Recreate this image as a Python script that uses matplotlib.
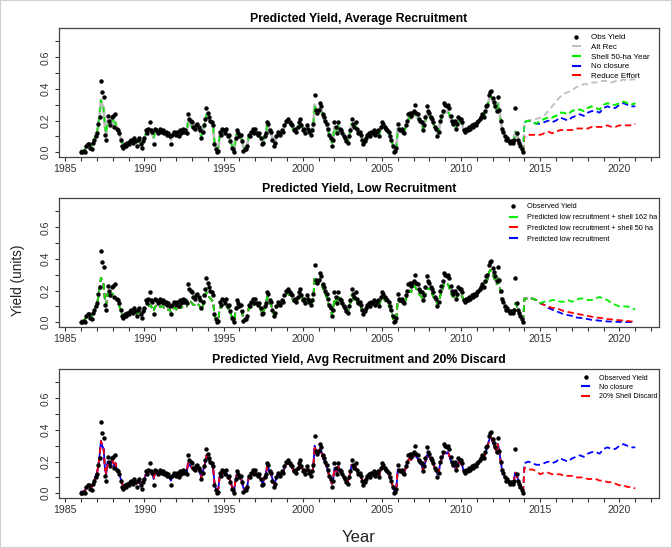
import numpy as np
import matplotlib.pyplot as plt
from matplotlib.lines import Line2D
from matplotlib.patches import Rectangle

plt.rcParams['font.family'] = ['Liberation Sans', 'DejaVu Sans']

# observed yield, monthly from Jan 1986 to Dec 2013
obs_yield = [
    0.00, 0.00, 0.01, 0.00, 0.04, 0.05, 0.05, 0.03, 0.02, 0.06, 0.08, 0.10,  # 1986
    0.12, 0.18, 0.22, 0.45, 0.38, 0.35, 0.11, 0.08, 0.23, 0.20, 0.17, 0.22,  # 1987
    0.23, 0.16, 0.24, 0.15, 0.14, 0.12, 0.08, 0.04, 0.03, 0.05, 0.04, 0.06,  # 1988
    0.05, 0.07, 0.08, 0.06, 0.09, 0.07, 0.04, 0.08, 0.09, 0.05, 0.03, 0.07,  # 1989
    0.09, 0.14, 0.12, 0.15, 0.19, 0.14, 0.13, 0.05, 0.15, 0.14, 0.12, 0.13,  # 1990
    0.15, 0.13, 0.14, 0.12, 0.13, 0.11, 0.12, 0.10, 0.05, 0.11, 0.13, 0.12,  # 1991
    0.11, 0.13, 0.10, 0.14, 0.12, 0.15, 0.13, 0.14, 0.12, 0.24, 0.21, 0.20,  # 1992
    0.19, 0.16, 0.15, 0.17, 0.18, 0.16, 0.14, 0.09, 0.13, 0.17, 0.21, 0.28,  # 1993
    0.25, 0.22, 0.20, 0.19, 0.17, 0.05, 0.02, 0.00, 0.01, 0.13, 0.11, 0.15,  # 1994
    0.14, 0.12, 0.15, 0.10, 0.11, 0.07, 0.03, 0.02, 0.00, 0.09, 0.14, 0.12,  # 1995
    0.10, 0.11, 0.07, 0.01, 0.02, 0.02, 0.04, 0.11, 0.10, 0.13, 0.15, 0.12,  # 1996
    0.15, 0.12, 0.11, 0.12, 0.09, 0.05, 0.06, 0.10, 0.12, 0.19, 0.18, 0.14,  # 1997
    0.13, 0.08, 0.04, 0.06, 0.10, 0.13, 0.12, 0.11, 0.14, 0.13, 0.17, 0.20,  # 1998
    0.20, 0.21, 0.19, 0.18, 0.17, 0.14, 0.15, 0.13, 0.16, 0.19, 0.21, 0.17,  # 1999
    0.14, 0.15, 0.12, 0.17, 0.15, 0.13, 0.11, 0.14, 0.18, 0.36, 0.27, 0.25,  # 2000
    0.27, 0.31, 0.29, 0.24, 0.22, 0.20, 0.18, 0.15, 0.11, 0.09, 0.04, 0.08,  # 2001
    0.19, 0.16, 0.12, 0.19, 0.15, 0.14, 0.12, 0.10, 0.09, 0.07, 0.06, 0.10,  # 2002
    0.14, 0.21, 0.18, 0.16, 0.19, 0.15, 0.12, 0.13, 0.11, 0.08, 0.05, 0.07,  # 2003
    0.09, 0.11, 0.12, 0.10, 0.13, 0.12, 0.14, 0.11, 0.13, 0.14, 0.10, 0.16,  # 2004
    0.19, 0.18, 0.16, 0.15, 0.14, 0.13, 0.10, 0.08, 0.04, 0.00, 0.01, 0.03,  # 2005
    0.18, 0.15, 0.14, 0.15, 0.13, 0.12, 0.17, 0.20, 0.24, 0.25, 0.23, 0.25,  # 2006
    0.26, 0.30, 0.25, 0.24, 0.21, 0.20, 0.19, 0.14, 0.17, 0.22, 0.29, 0.26,  # 2007
    0.25, 0.22, 0.21, 0.19, 0.16, 0.15, 0.10, 0.13, 0.20, 0.23, 0.26, 0.31,  # 2008
    0.30, 0.29, 0.30, 0.28, 0.23, 0.20, 0.18, 0.20, 0.15, 0.18, 0.22, 0.21,  # 2009
    0.21, 0.19, 0.14, 0.13, 0.15, 0.14, 0.16, 0.15, 0.17, 0.16, 0.18, 0.17,  # 2010
    0.19, 0.20, 0.21, 0.22, 0.24, 0.22, 0.26, 0.29, 0.30, 0.36, 0.38, 0.39,  # 2011
    0.34, 0.32, 0.29, 0.26, 0.35, 0.27, 0.20, 0.15, 0.13, 0.10, 0.08, 0.09,  # 2012
    0.07, 0.06, 0.07, 0.06, 0.08, 0.28, 0.12, 0.08, 0.06, 0.04, 0.02, 0.00,  # 2013
]

# fitted yield, average recruitment (monthly, same months)
fit_avg = [
    0.01, 0.01, 0.01, 0.02, 0.03, 0.05, 0.05, 0.04, 0.04, 0.06, 0.08, 0.11,
    0.13, 0.17, 0.24, 0.33, 0.30, 0.28, 0.16, 0.12, 0.20, 0.19, 0.17, 0.20,
    0.21, 0.17, 0.19, 0.15, 0.14, 0.12, 0.09, 0.06, 0.05, 0.05, 0.05, 0.06,
    0.06, 0.07, 0.07, 0.07, 0.08, 0.07, 0.06, 0.07, 0.08, 0.06, 0.06, 0.08,
    0.09, 0.12, 0.12, 0.13, 0.15, 0.13, 0.12, 0.09, 0.13, 0.13, 0.12, 0.12,
    0.13, 0.13, 0.13, 0.12, 0.12, 0.11, 0.11, 0.10, 0.08, 0.10, 0.12, 0.12,
    0.11, 0.12, 0.11, 0.13, 0.12, 0.14, 0.13, 0.13, 0.13, 0.19, 0.18, 0.17,
    0.16, 0.15, 0.14, 0.16, 0.16, 0.15, 0.13, 0.10, 0.13, 0.16, 0.19, 0.24,
    0.22, 0.21, 0.19, 0.18, 0.16, 0.07, 0.03, 0.02, 0.03, 0.11, 0.11, 0.13,
    0.13, 0.12, 0.13, 0.11, 0.10, 0.08, 0.05, 0.03, 0.02, 0.08, 0.12, 0.11,
    0.10, 0.10, 0.07, 0.03, 0.03, 0.03, 0.05, 0.10, 0.10, 0.12, 0.13, 0.12,
    0.13, 0.12, 0.11, 0.11, 0.09, 0.07, 0.07, 0.10, 0.12, 0.17, 0.16, 0.13,
    0.12, 0.09, 0.06, 0.07, 0.10, 0.12, 0.12, 0.11, 0.13, 0.13, 0.16, 0.18,
    0.19, 0.19, 0.18, 0.17, 0.16, 0.14, 0.14, 0.13, 0.15, 0.17, 0.19, 0.17,
    0.15, 0.14, 0.13, 0.15, 0.15, 0.13, 0.12, 0.13, 0.17, 0.30, 0.26, 0.24,
    0.26, 0.28, 0.27, 0.23, 0.21, 0.19, 0.17, 0.14, 0.11, 0.09, 0.06, 0.09,
    0.16, 0.15, 0.12, 0.17, 0.14, 0.13, 0.12, 0.10, 0.09, 0.08, 0.07, 0.10,
    0.13, 0.18, 0.17, 0.15, 0.17, 0.14, 0.12, 0.12, 0.11, 0.08, 0.06, 0.08,
    0.09, 0.10, 0.11, 0.10, 0.12, 0.12, 0.13, 0.11, 0.12, 0.13, 0.11, 0.15,
    0.17, 0.17, 0.15, 0.14, 0.13, 0.12, 0.10, 0.08, 0.05, 0.02, 0.02, 0.04,
    0.15, 0.14, 0.14, 0.14, 0.13, 0.13, 0.16, 0.19, 0.21, 0.22, 0.21, 0.23,
    0.23, 0.25, 0.23, 0.22, 0.20, 0.19, 0.18, 0.15, 0.17, 0.20, 0.24, 0.23,
    0.23, 0.21, 0.20, 0.18, 0.16, 0.15, 0.12, 0.13, 0.18, 0.21, 0.23, 0.26,
    0.26, 0.25, 0.26, 0.24, 0.21, 0.19, 0.17, 0.18, 0.15, 0.17, 0.20, 0.19,
    0.19, 0.17, 0.14, 0.13, 0.14, 0.14, 0.15, 0.15, 0.16, 0.16, 0.17, 0.17,
    0.18, 0.19, 0.20, 0.21, 0.22, 0.22, 0.24, 0.27, 0.29, 0.33, 0.35, 0.35,
    0.32, 0.30, 0.28, 0.26, 0.31, 0.26, 0.20, 0.15, 0.13, 0.10, 0.09, 0.09,
    0.08, 0.07, 0.07, 0.07, 0.08, 0.13, 0.12, 0.09, 0.07, 0.05, 0.03, 0.01,
]

# fitted yield, low recruitment (monthly)
fit_low = [
    0.01, 0.01, 0.01, 0.02, 0.03, 0.04, 0.05, 0.04, 0.04, 0.05, 0.07, 0.10,
    0.12, 0.16, 0.22, 0.28, 0.26, 0.24, 0.14, 0.11, 0.18, 0.17, 0.15, 0.18,
    0.18, 0.15, 0.16, 0.13, 0.12, 0.10, 0.08, 0.05, 0.04, 0.04, 0.04, 0.05,
    0.05, 0.06, 0.06, 0.06, 0.07, 0.06, 0.05, 0.06, 0.07, 0.05, 0.05, 0.06,
    0.07, 0.09, 0.09, 0.10, 0.11, 0.10, 0.09, 0.07, 0.10, 0.10, 0.09, 0.09,
    0.10, 0.10, 0.10, 0.09, 0.09, 0.08, 0.08, 0.08, 0.06, 0.08, 0.09, 0.09,
    0.08, 0.09, 0.08, 0.10, 0.09, 0.10, 0.10, 0.10, 0.10, 0.14, 0.13, 0.13,
    0.12, 0.11, 0.11, 0.12, 0.12, 0.11, 0.10, 0.08, 0.10, 0.12, 0.15, 0.19,
    0.17, 0.16, 0.15, 0.14, 0.13, 0.05, 0.02, 0.01, 0.02, 0.09, 0.09, 0.11,
    0.11, 0.10, 0.11, 0.09, 0.08, 0.06, 0.04, 0.02, 0.01, 0.07, 0.10, 0.09,
    0.09, 0.09, 0.06, 0.02, 0.02, 0.02, 0.04, 0.09, 0.09, 0.11, 0.12, 0.11,
    0.12, 0.11, 0.10, 0.10, 0.08, 0.06, 0.06, 0.09, 0.11, 0.16, 0.15, 0.12,
    0.11, 0.08, 0.05, 0.06, 0.09, 0.11, 0.11, 0.10, 0.12, 0.12, 0.15, 0.17,
    0.18, 0.18, 0.17, 0.16, 0.15, 0.13, 0.13, 0.12, 0.14, 0.16, 0.18, 0.16,
    0.14, 0.13, 0.12, 0.14, 0.14, 0.12, 0.11, 0.12, 0.16, 0.29, 0.25, 0.23,
    0.25, 0.27, 0.26, 0.22, 0.20, 0.18, 0.16, 0.13, 0.10, 0.08, 0.05, 0.08,
    0.15, 0.14, 0.11, 0.16, 0.13, 0.12, 0.11, 0.09, 0.08, 0.07, 0.06, 0.09,
    0.12, 0.17, 0.16, 0.14, 0.16, 0.13, 0.11, 0.11, 0.10, 0.07, 0.05, 0.07,
    0.08, 0.09, 0.10, 0.09, 0.11, 0.11, 0.12, 0.10, 0.11, 0.12, 0.10, 0.14,
    0.16, 0.16, 0.14, 0.13, 0.12, 0.11, 0.09, 0.07, 0.04, 0.01, 0.01, 0.03,
    0.14, 0.13, 0.13, 0.13, 0.12, 0.12, 0.14, 0.17, 0.19, 0.20, 0.19, 0.21,
    0.21, 0.23, 0.21, 0.20, 0.18, 0.17, 0.16, 0.14, 0.16, 0.18, 0.22, 0.21,
    0.21, 0.19, 0.18, 0.16, 0.15, 0.14, 0.11, 0.12, 0.16, 0.19, 0.21, 0.24,
    0.24, 0.23, 0.24, 0.22, 0.19, 0.17, 0.16, 0.16, 0.14, 0.16, 0.18, 0.18,
    0.17, 0.16, 0.13, 0.12, 0.13, 0.13, 0.14, 0.14, 0.15, 0.15, 0.16, 0.16,
    0.17, 0.18, 0.19, 0.20, 0.21, 0.21, 0.23, 0.25, 0.27, 0.31, 0.33, 0.32,
    0.30, 0.28, 0.26, 0.24, 0.29, 0.24, 0.18, 0.14, 0.12, 0.09, 0.08, 0.08,
    0.07, 0.06, 0.06, 0.06, 0.07, 0.12, 0.11, 0.08, 0.06, 0.04, 0.02, 0.01,
]

# projections, quarterly from 2014.00 to 2021.00
fc_alt_rec = [0.19, 0.20, 0.21, 0.21, 0.22, 0.23, 0.26, 0.29, 0.32, 0.35, 0.37, 0.38,
              0.39, 0.41, 0.42, 0.43, 0.43, 0.44, 0.44, 0.45, 0.45, 0.45, 0.44, 0.45,
              0.45, 0.46, 0.45, 0.46, 0.46]
fc_shell50 = [0.19, 0.20, 0.19, 0.18, 0.20, 0.21, 0.22, 0.22, 0.23, 0.25, 0.25, 0.24,
              0.26, 0.27, 0.27, 0.26, 0.28, 0.29, 0.28, 0.27, 0.30, 0.31, 0.30, 0.30,
              0.31, 0.32, 0.31, 0.30, 0.31]
fc_no_closure = [0.19, 0.20, 0.19, 0.18, 0.18, 0.19, 0.20, 0.19, 0.20, 0.22, 0.21, 0.20,
                 0.22, 0.23, 0.24, 0.23, 0.25, 0.26, 0.26, 0.25, 0.28, 0.29, 0.28, 0.28,
                 0.30, 0.31, 0.30, 0.29, 0.29]
fc_reduce = [0.10, 0.11, 0.11, 0.11, 0.11, 0.12, 0.13, 0.12, 0.13, 0.14, 0.14, 0.14,
             0.14, 0.15, 0.15, 0.15, 0.15, 0.16, 0.16, 0.16, 0.16, 0.17, 0.16, 0.16,
             0.17, 0.17, 0.17, 0.17, 0.18]
fc_low_shell162 = [0.15, 0.15, 0.15, 0.14, 0.12, 0.13, 0.13, 0.14, 0.14, 0.13, 0.13, 0.14,
                   0.13, 0.14, 0.15, 0.15, 0.14, 0.14, 0.15, 0.16, 0.15, 0.14, 0.12, 0.11,
                   0.10, 0.10, 0.10, 0.09, 0.08]
fc_low_shell50 = [0.15, 0.15, 0.15, 0.14, 0.12, 0.11, 0.10, 0.09, 0.09, 0.08, 0.07, 0.065,
                  0.06, 0.055, 0.05, 0.045, 0.04, 0.035, 0.03, 0.028, 0.025, 0.02, 0.018, 0.015,
                  0.013, 0.01, 0.008, 0.005, 0.003]
fc_low = [0.15, 0.15, 0.15, 0.14, 0.12, 0.11, 0.09, 0.08, 0.07, 0.06, 0.05, 0.045,
          0.04, 0.03, 0.028, 0.025, 0.02, 0.015, 0.013, 0.01, 0.008, 0.005, 0.004, 0.003,
          0.002, 0.002, 0.001, 0.001, 0.0]
fc_discard = [0.16, 0.15, 0.15, 0.14, 0.12, 0.13, 0.13, 0.12, 0.12, 0.12, 0.11, 0.11,
              0.11, 0.10, 0.10, 0.10, 0.09, 0.09, 0.09, 0.08, 0.08, 0.07, 0.07, 0.06,
              0.05, 0.05, 0.04, 0.04, 0.03]

t_hist = 1986 + np.arange(len(obs_yield)) / 12
t_fc = 2014 + np.arange(len(fc_alt_rec)) / 4
t_all = np.concatenate([t_hist, t_fc])

GRAY = '#BEBEBE'
GREEN = '#00EE00'
BLUE = '#0000FF'
RED = '#FF0000'
DASH = (0, (3.5, 2))
LW = 1.3

fig = plt.figure(figsize=(6.72, 5.48), dpi=100)
fig.patches.append(Rectangle((0, 0), 1, 1, transform=fig.transFigure, fill=False,
                             ec='#d0d0d0', lw=1.5))

W, H = 672, 548
tops = [28, 198, 369]
axs = [fig.add_axes([59 / W, 1 - (t + 129) / H, 600 / W, 129 / H]) for t in tops]


def series(ax, hist, fc, color, ls=DASH, lw=LW):
    ax.plot(t_all, np.concatenate([hist, fc]), color=color, ls=ls, lw=lw)


def dots(ax):
    ax.plot(t_hist, obs_yield, 'o', color='black', ms=3.2, mew=0)


def setup(ax, title):
    ax.set_xlim(1984.6, 2022.5)
    ax.set_ylim(-0.03, 0.785)
    ax.set_xticks(range(1985, 2021, 5))
    ax.set_xticks(range(1985, 2023), minor=True)
    ax.set_yticks([0.0, 0.2, 0.4, 0.6])
    ax.set_yticks([0.1, 0.3, 0.5, 0.7], minor=True)
    ax.set_yticklabels(['0.0', '0.2', '0.4', '0.6'], rotation=90, va='center')
    ax.tick_params(which='both', direction='out', length=3, width=0.8,
                   labelsize=7.6, colors='#333333')
    ax.tick_params(axis='x', pad=2)
    ax.tick_params(axis='y', pad=3)
    for s in ax.spines.values():
        s.set_linewidth(0.9)
        s.set_color('#444444')
    ax.set_title(title, fontsize=8.8, fontweight='bold', pad=4)


def legend(ax, items, anchor, spacing, size):
    handles = []
    for lab, col in items:
        if col == 'dot':
            handles.append(Line2D([], [], color='black', marker='o', ls='none', ms=3.2, mew=0, label=lab))
        else:
            handles.append(Line2D([], [], color=col, lw=1.5, label=lab))
    ax.legend(handles=handles, loc='upper right', bbox_to_anchor=anchor, frameon=False,
              fontsize=size, handlelength=0.9, handletextpad=1.4, labelspacing=spacing,
              borderaxespad=0, borderpad=0)


# panel 1
ax = axs[0]
series(ax, fit_avg, fc_no_closure, BLUE)
series(ax, fit_avg, fc_reduce, RED)
ax.plot(t_hist, fit_avg, color=GRAY, lw=2.0)
ax.plot(np.concatenate([t_hist[-1:], t_fc]), np.concatenate([fit_avg[-1:], fc_alt_rec]),
        color=GRAY, ls=DASH, lw=LW)
series(ax, fit_avg, fc_shell50, GREEN, ls=(0, (3.5, 3)), lw=1.1)
ax.plot(t_fc, fc_shell50, color=GREEN, ls=DASH, lw=LW)
dots(ax)
setup(ax, 'Predicted Yield, Average Recruitment')
legend(ax, [('Obs Yield', 'dot'), ('Alt Rec', GRAY), ('Shell 50-ha Year', GREEN),
            ('No closure', BLUE), ('Reduce Effort', RED)], (0.985, 0.955), 0.25, 5.8)

# panel 2
ax = axs[1]
series(ax, fit_low, fc_low, BLUE)
series(ax, fit_low, fc_low_shell50, RED)
series(ax, fit_low, fc_low_shell162, GREEN)
dots(ax)
setup(ax, 'Predicted Yield, Low Recruitment')
legend(ax, [('Observed Yield', 'dot'), ('Predicted low recruitment + shell 162 ha', GREEN),
            ('Predicted low recruitment + shell 50 ha', RED),
            ('Predicted low recruitment', BLUE)], (0.997, 0.96), 0.5, 5.3)

# panel 3
ax = axs[2]
ax.plot(t_hist, fit_avg, color=BLUE, lw=LW)
series(ax, fit_avg, fc_no_closure, BLUE)
series(ax, fit_avg, fc_discard, RED)
dots(ax)
setup(ax, 'Predicted Yield, Avg Recruitment and 20% Discard')
legend(ax, [('Observed Yield', 'dot'), ('No closure', BLUE), ('20% Shell Discard', RED)],
       (0.997, 0.955), 0.3, 5.1)

fig.text(359 / W, 1 - 537 / H, 'Year', ha='center', va='center', fontsize=12, color='#222222')
fig.text(18 / W, 1 - 280 / H, 'Yield (units)', ha='center', va='center', rotation=90,
         fontsize=9.8, color='#222222')

fig.savefig('out.png', dpi=100)
